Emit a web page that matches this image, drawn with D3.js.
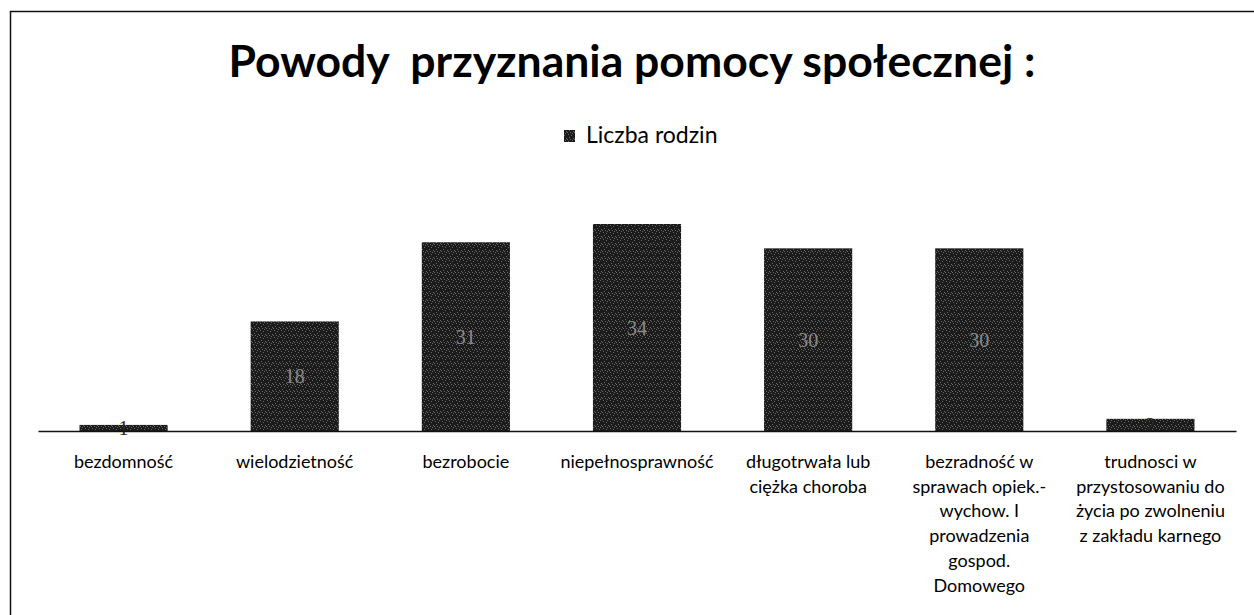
<!DOCTYPE html>
<html>
<head>
<meta charset="utf-8">
<script src="https://cdn.jsdelivr.net/npm/d3@7"></script>
<style>
  body { margin: 0; background: #fff; }
  svg { display: block; }
</style>
</head>
<body>
<svg></svg>
<script>
let categories = [
  ["bezdomność"],
  ["wielodzietność"],
  ["bezrobocie"],
  ["niepełnosprawność"],
  ["długotrwała lub", "ciężka choroba"],
  ["bezradność w", "sprawach opiek.-", "wychow. I", "prowadzenia", "gospod.", "Domowego"],
  ["trudnosci w", "przystosowaniu do", "życia po zwolneniu", "z zakładu karnego"]
]
let values = [1, 18, 31, 34, 30, 30, 2]
let seriesName = "Liczba rodzin"
let title = "Powody  przyznania pomocy społecznej :"

let width = 1254
let height = 615
let baseY = 431
let topY = 224

let svg = d3.select("svg").attr("width", width).attr("height", height)

// scan-like texture for the bars
let defs = svg.append("defs")
let pat = defs.append("pattern")
  .attr("id", "tex")
  .attr("width", 7).attr("height", 7)
  .attr("patternUnits", "userSpaceOnUse")
pat.append("rect").attr("width", 7).attr("height", 7).attr("fill", "#1b1b1b")
let dots = [[1, 1], [4, 2], [2, 4], [6, 5], [5, 0], [0, 6], [3, 6]]
dots.forEach(d => {
  pat.append("rect").attr("x", d[0]).attr("y", d[1]).attr("width", 1).attr("height", 1).attr("fill", "#6a6a6a")
})

// frame (top and left edges visible in the scan)
svg.append("path")
  .attr("d", "M10.5," + height + " V11.5 H" + width)
  .attr("fill", "none").attr("stroke", "#111").attr("stroke-width", 1.5)

let xScale = d3.scaleBand()
  .domain(d3.range(values.length))
  .range([38, 1236])
  .paddingInner(0.485)
  .paddingOuter(0.2425)

let yScale = d3.scaleLinear()
  .domain([0, 34])
  .range([baseY, topY])

svg.append("text")
  .attr("x", 632).attr("y", 77)
  .attr("text-anchor", "middle")
  .attr("font-family", "Lato, 'Open Sans', sans-serif")
  .attr("font-weight", "bold")
  .attr("font-size", 44.5)
  .attr("fill", "#000")
  .style("white-space", "pre")
  .text(title)

// legend
svg.append("rect")
  .attr("x", 564).attr("y", 130).attr("width", 11).attr("height", 12)
  .attr("fill", "url(#tex)")
svg.append("text")
  .attr("x", 586).attr("y", 143)
  .attr("font-family", "Lato, 'Open Sans', sans-serif")
  .attr("font-size", 23)
  .attr("fill", "#000")
  .text(seriesName)

svg.selectAll("rect.bar")
  .data(values)
  .enter()
  .append("rect")
  .attr("class", "bar")
  .attr("x", (d, i) => xScale(i))
  .attr("width", xScale.bandwidth())
  .attr("y", d => yScale(d))
  .attr("height", d => baseY - yScale(d))
  .attr("fill", "url(#tex)")

svg.selectAll("text.val")
  .data(values)
  .enter()
  .append("text")
  .attr("class", "val")
  .attr("x", (d, i) => xScale(i) + xScale.bandwidth() / 2)
  .attr("y", d => (yScale(d) + baseY) / 2 + 7)
  .attr("text-anchor", "middle")
  .attr("font-family", "'Liberation Serif', serif")
  .attr("font-size", 20)
  .attr("fill", (d) => d < 5 ? "#222" : "#8a8a8a")
  .text(d => d)

let xAxis = d3.axisBottom(xScale).tickSize(0).tickFormat("")
let gx = svg.append("g")
  .attr("transform", "translate(0," + baseY + ")")
  .call(xAxis)
gx.select(".domain").attr("stroke", "#111").attr("stroke-width", 1.5)

let labels = svg.selectAll("text.cat")
  .data(categories)
  .enter()
  .append("text")
  .attr("class", "cat")
  .attr("text-anchor", "middle")
  .attr("font-family", "Lato, 'Open Sans', sans-serif")
  .attr("font-size", 18)
  .attr("fill", "#000")

labels.each(function (lines, i) {
  let cx = xScale(i) + xScale.bandwidth() / 2
  d3.select(this).selectAll("tspan")
    .data(lines)
    .enter()
    .append("tspan")
    .attr("x", cx)
    .attr("y", (l, j) => 468 + j * 24.7)
    .text(l => l)
})
</script>
</body>
</html>
